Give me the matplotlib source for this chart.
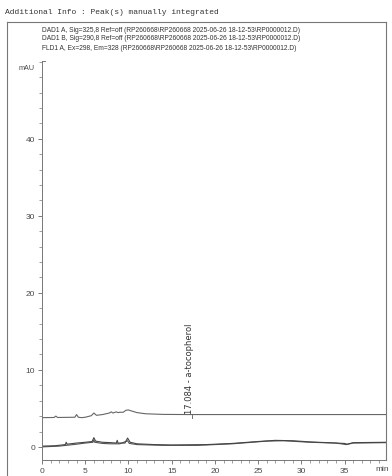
import matplotlib
matplotlib.use("Agg")
import matplotlib.pyplot as plt
from matplotlib.lines import Line2D
from matplotlib.ticker import MultipleLocator

# chromatogram traces (time in min, signal in mAU)
t_fld = [0, 1.4, 1.6, 1.8, 3.8, 4.0, 4.2, 4.6, 5.0, 5.7, 6.0, 6.3, 7.0, 7.8, 8.0,
         8.2, 8.6, 8.8, 9.0, 9.4, 9.7, 10.0, 10.4, 11, 12, 14, 17, 17.1, 20, 25,
         30, 35, 39.8]
v_fld = [3.8, 3.82, 4.0, 3.82, 3.85, 4.2, 3.85, 3.8, 3.85, 4.05, 4.4, 4.1, 4.2,
         4.4, 4.55, 4.4, 4.55, 4.45, 4.5, 4.5, 4.75, 4.8, 4.65, 4.45, 4.3, 4.22, 4.2,
         4.2, 4.2, 4.2, 4.2, 4.2, 4.2]

t_dad_a = [0, 1.5, 2.7, 2.8, 2.9, 4.0, 5.0, 5.8, 6.0, 6.2, 7.0, 8.0, 8.6, 8.7,
           8.8, 9.6, 9.9, 10.2, 11, 13, 15, 19, 22, 25, 27, 29, 31, 33, 35, 35.3,
           36, 39.8]
v_dad_a = [0.1, 0.15, 0.3, 0.6, 0.35, 0.5, 0.6, 0.7, 1.2, 0.75, 0.6, 0.55, 0.5,
           0.85, 0.5, 0.5, 1.15, 0.6, 0.4, 0.3, 0.25, 0.3, 0.45, 0.7, 0.85, 0.8,
           0.65, 0.55, 0.45, 0.35, 0.55, 0.6]

t_dad_b = [0, 2.0, 4.0, 5.0, 5.9, 6.0, 6.1, 7.0, 8.0, 9.0, 9.9, 10.1, 11, 14, 18,
           22, 26, 28, 31, 34, 35.2, 36, 39.8]
v_dad_b = [0.0, 0.1, 0.35, 0.5, 0.6, 0.9, 0.6, 0.45, 0.4, 0.4, 0.8, 0.45, 0.3,
           0.2, 0.2, 0.4, 0.75, 0.8, 0.6, 0.5, 0.3, 0.5, 0.55]

peak_time = 17.084
peak_label = "17.084 - a-tocopherol"

header = "Additional Info : Peak(s) manually integrated"
signal_lines = [
    "DAD1 A, Sig=325,8 Ref=off (RP260668\\RP260668 2025-06-26 18-12-53\\RP0000012.D)",
    "DAD1 B, Sig=290,8 Ref=off (RP260668\\RP260668 2025-06-26 18-12-53\\RP0000012.D)",
    "FLD1 A, Ex=298, Em=328 (RP260668\\RP260668 2025-06-26 18-12-53\\RP0000012.D)",
]

W, H = 392, 477
narrow = ["Liberation Sans Narrow", "Liberation Sans", "DejaVu Sans"]
ink = "#4a4a4a"

fig = plt.figure(figsize=(W / 100, H / 100), dpi=100)
fig.patch.set_facecolor("white")

def fx(px):
    return px / W

def fy(py):
    return 1 - py / H

# header line and outer frame
fig.text(fx(5), fy(13), header, family="Liberation Mono", fontsize=5.8,
         color="#333333", va="center", ha="left")
for xs, ys in [((7, 386), (23, 23)), ((7, 7), (23, 477)), ((386, 386), (23, 461))]:
    fig.add_artist(Line2D([fx(xs[0]), fx(xs[1])], [fy(ys[0]), fy(ys[1])],
                          transform=fig.transFigure, color="#777777", lw=0.8))

for i, s in enumerate(signal_lines):
    fig.text(fx(42), fy(30 + 9 * i), s, family=narrow, fontsize=4.75,
             color="#333333", va="center", ha="left")

ax = fig.add_axes([fx(42), fy(461), fx(386) - fx(42), fy(62) - fy(461)])
ax.plot(t_fld, v_fld, color="#666666", lw=0.8)
ax.plot(t_dad_b, v_dad_b, color="#555555", lw=0.8)
ax.plot(t_dad_a, v_dad_a, color="#444444", lw=0.8)

ax.set_xlim(0, 39.8)
ax.set_ylim(-1.7, 50.1)
ax.spines["top"].set_visible(False)
ax.spines["right"].set_visible(False)
for sp in ("left", "bottom"):
    ax.spines[sp].set_color("#777777")
    ax.spines[sp].set_linewidth(0.7)

ax.set_xticks([0, 5, 10, 15, 20, 25, 30, 35])
ax.xaxis.set_minor_locator(MultipleLocator(1))
ax.set_yticks([0, 10, 20, 30, 40])
ax.yaxis.set_minor_locator(MultipleLocator(2))
ax.tick_params(which="major", length=3, width=0.6, color="#666666",
               labelsize=6, labelcolor=ink, pad=2)
ax.tick_params(which="minor", length=2, width=0.5, color="#777777")
for lab in ax.get_xticklabels() + ax.get_yticklabels():
    lab.set_family(narrow)

ax.annotate("min", xy=(39.4, -1.7), xytext=(0, -3.6), textcoords="offset points",
            ha="center", va="top", fontsize=6, family=narrow, color=ink,
            annotation_clip=False)
ax.text(-0.9, 49.3, "mAU", ha="right", va="center", fontsize=5.2,
        family=narrow, color=ink)
ax.plot([0, 0.4], [50.1, 50.1], color="#777777", lw=0.7, clip_on=False)

# peak marker and label
ax.plot([peak_time + 0.3, peak_time + 0.3], [4.2, 3.8], color="#555555", lw=0.6)
ax.text(peak_time - 0.05, 4.4, peak_label, rotation=90, ha="center", va="bottom",
        fontsize=6, family=["DejaVu Sans"], color="#333333")

fig.savefig("out.png", dpi=100, facecolor="white")
